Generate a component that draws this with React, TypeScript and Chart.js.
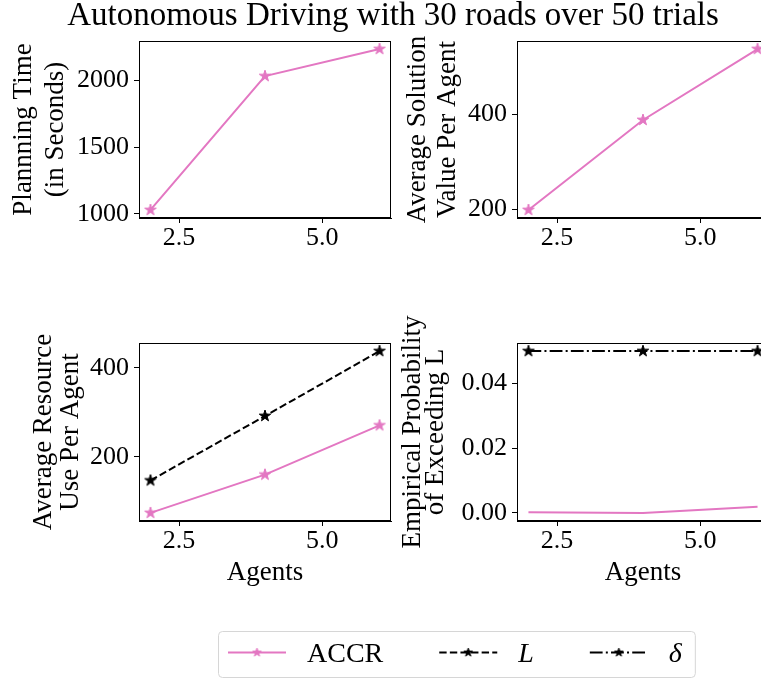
import React, { useEffect, useRef } from 'react';
import { Chart, registerables } from 'chart.js';

Chart.register(...registerables);

// ---- data ----
const AGENTS = [2, 4, 6];
const X_TICKS = [2.5, 5.0];

const PLAN_TIME_ACCR = [1030, 2030, 2232];
const SOLUTION_VALUE_ACCR = [199, 388, 537];
const RESOURCE_ACCR = [74, 160, 271];
const RESOURCE_L = [147, 292, 438];
const EXCEED_PROB_ACCR = [0.0002, 0.0, 0.0019];
const EXCEED_PROB_DELTA = [0.05, 0.05, 0.05];

const TICKS_TIME = [1000, 1500, 2000];
const TICKS_VALUE = [200, 400];
const TICKS_RESOURCE = [200, 400];
const TICKS_PROB = [0.0, 0.02, 0.04];

const SERIES_NAMES = ['ACCR', 'L', 'δ'];
const TITLE = 'Autonomous Driving with 30 roads over 50 trials';

// ---- style ----
const FONT = "'Liberation Serif', 'DejaVu Serif', serif";
const PINK = '#e377c2';
const BLACK = '#000000';
const DASHED = [7.4, 3.2];
const DASH_DOT = [12.8, 3.2, 2, 3.2];
const Y_AXIS_W = 140;
const PLOT_W = 252;
const TOP_PAD = 40;

function makeStar(color: string, radius: number): HTMLCanvasElement {
  const size = Math.ceil(radius * 2 + 2);
  const c = document.createElement('canvas');
  c.width = size;
  c.height = size;
  const g = c.getContext('2d')!;
  const cx = size / 2;
  const cy = size / 2;
  g.beginPath();
  for (let k = 0; k < 10; k++) {
    const r = k % 2 === 0 ? radius : radius * 0.382;
    const a = -Math.PI / 2 + (k * Math.PI) / 5;
    const px = cx + r * Math.cos(a);
    const py = cy + r * Math.sin(a);
    if (k === 0) g.moveTo(px, py);
    else g.lineTo(px, py);
  }
  g.closePath();
  g.fillStyle = color;
  g.fill();
  g.strokeStyle = color;
  g.lineWidth = 1;
  g.stroke();
  return c;
}

function padRange(values: number[]): [number, number] {
  const lo = Math.min(...values);
  const hi = Math.max(...values);
  const m = (hi - lo) * 0.05;
  return [lo - m, hi + m];
}

type Series = {
  label: string;
  values: number[];
  color: string;
  dash: number[];
  marker: boolean;
};

// full frame around the plotting area
const framePlugin = {
  id: 'frame',
  afterDraw(chart: any) {
    const { ctx, chartArea } = chart;
    ctx.save();
    ctx.strokeStyle = BLACK;
    ctx.lineWidth = 1;
    const l = Math.round(chartArea.left) + 0.5;
    const t = Math.round(chartArea.top) + 0.5;
    const r = Math.round(chartArea.right) - 0.5;
    const b = Math.round(chartArea.bottom) - 0.5;
    ctx.strokeRect(l, t, r - l, b - t);
    ctx.restore();
  },
};

type PanelProps = {
  plotLeft: number;
  plotTop: number;
  plotHeight: number;
  axisBelow: number;
  yTitle: string[];
  yTitleLine: number;
  yTitlePad: number;
  xTitle?: string;
  yTicks: number[];
  yDecimals: number;
  series: Series[];
};

function Panel(p: PanelProps) {
  const ref = useRef<HTMLCanvasElement | null>(null);
  const width = Y_AXIS_W + PLOT_W + 1;
  const height = TOP_PAD + p.plotHeight + p.axisBelow;

  useEffect(() => {
    const allY = p.series.flatMap((s) => s.values);
    const [yMin, yMax] = padRange(allY);
    const [xMin, xMax] = padRange(AGENTS);

    const datasets = p.series.map((s) => ({
      label: s.label,
      data: AGENTS.map((x, i) => ({ x, y: s.values[i] })),
      borderColor: s.color,
      backgroundColor: s.color,
      borderWidth: 2,
      borderDash: s.dash,
      pointStyle: s.marker ? makeStar(s.color, 6) : 'circle',
      pointRadius: s.marker ? 6 : 0,
      tension: 0,
      clip: false as any,
    }));

    const tickFont = { family: FONT, size: 26 };
    const gridStyle = {
      display: true,
      drawOnChartArea: false,
      drawTicks: true,
      tickLength: 5,
      color: BLACK,
      lineWidth: 1,
    };

    const chart = new Chart(ref.current!, {
      type: 'line',
      data: { datasets },
      options: {
        animation: false,
        responsive: false,
        events: [],
        layout: { autoPadding: false, padding: { top: TOP_PAD, left: 0, right: 1, bottom: 0 } },
        plugins: { legend: { display: false }, tooltip: { enabled: false } },
        scales: {
          x: {
            type: 'linear',
            min: xMin,
            max: xMax,
            afterBuildTicks: (s: any) => {
              s.ticks = X_TICKS.map((v) => ({ value: v }));
            },
            afterFit: (s: any) => {
              s.height = p.axisBelow;
            },
            ticks: {
              font: tickFont,
              color: BLACK,
              padding: 0,
              maxRotation: 0,
              autoSkip: false,
              callback: (v: any) => Number(v).toFixed(1),
            },
            grid: gridStyle,
            border: { display: true, color: BLACK, width: 1 },
            title: {
              display: !!p.xTitle,
              text: p.xTitle || '',
              color: BLACK,
              font: { family: FONT, size: 27, lineHeight: 1.2 },
              padding: { top: 0, bottom: 12 },
            },
          },
          y: {
            type: 'linear',
            min: yMin,
            max: yMax,
            afterBuildTicks: (s: any) => {
              s.ticks = p.yTicks.map((v) => ({ value: v }));
            },
            afterFit: (s: any) => {
              s.width = Y_AXIS_W;
            },
            ticks: {
              font: tickFont,
              color: BLACK,
              padding: 5,
              autoSkip: false,
              callback: (v: any) => Number(v).toFixed(p.yDecimals),
            },
            grid: gridStyle,
            border: { display: true, color: BLACK, width: 1 },
            title: {
              display: true,
              text: p.yTitle,
              color: BLACK,
              font: { family: FONT, size: 27, lineHeight: `${p.yTitleLine}px` },
              padding: { top: p.yTitlePad, bottom: 0 },
            },
          },
        },
      },
      plugins: [framePlugin],
    } as any);
    return () => chart.destroy();
  }, []);

  return (
    <canvas
      ref={ref}
      width={width}
      height={height}
      style={{
        position: 'absolute',
        left: p.plotLeft - Y_AXIS_W,
        top: p.plotTop - TOP_PAD,
        width,
        height,
      }}
    />
  );
}

// legend drawn in the figure-level chart from its datasets
const figureLegendPlugin = {
  id: 'figureLegend',
  afterDraw(chart: any) {
    const ctx: CanvasRenderingContext2D = chart.ctx;
    const items = chart.data.datasets;
    const size = 28;
    const boxL = 218;
    const boxT = 631;
    const boxH = 46;
    const lineY = 652.5;
    const textY = 662;
    ctx.save();
    let x = boxL + 10;
    const entries = items.map((ds: any) => {
      ctx.font = `${ds.italicLabel ? 'italic ' : ''}${size}px ${FONT}`;
      const w = ctx.measureText(ds.label).width;
      const e = { ds, hx: x, tx: x + 79, w };
      x = x + 79 + w + 56;
      return e;
    });
    const last = entries[entries.length - 1];
    const boxR = last.tx + last.w + 13;

    ctx.beginPath();
    (ctx as any).roundRect(boxL + 0.5, boxT + 0.5, boxR - boxL, boxH, 4);
    ctx.fillStyle = 'rgba(255,255,255,0.8)';
    ctx.fill();
    ctx.strokeStyle = '#d6d6d6';
    ctx.lineWidth = 1;
    ctx.stroke();

    for (const e of entries) {
      const ds = e.ds;
      ctx.setLineDash(ds.borderDash || []);
      ctx.strokeStyle = ds.borderColor;
      ctx.lineWidth = 2;
      ctx.beginPath();
      ctx.moveTo(e.hx, lineY);
      ctx.lineTo(e.hx + 58, lineY);
      ctx.stroke();
      ctx.setLineDash([]);
      const img = ds.pointStyle as HTMLCanvasElement;
      ctx.drawImage(img, e.hx + 29 - img.width / 2, lineY - img.height / 2);
      ctx.font = `${ds.italicLabel ? 'italic ' : ''}${size}px ${FONT}`;
      ctx.fillStyle = BLACK;
      ctx.textBaseline = 'alphabetic';
      ctx.textAlign = 'left';
      ctx.fillText(ds.label, e.tx, textY);
    }
    ctx.restore();
  },
};

function Figure() {
  const ref = useRef<HTMLCanvasElement | null>(null);
  useEffect(() => {
    const legendSeries = [
      { label: SERIES_NAMES[0], color: PINK, dash: [] as number[], italic: false },
      { label: SERIES_NAMES[1], color: BLACK, dash: DASHED, italic: true },
      { label: SERIES_NAMES[2], color: BLACK, dash: DASH_DOT, italic: true },
    ];
    const chart = new Chart(ref.current!, {
      type: 'line',
      data: {
        datasets: legendSeries.map((s) => ({
          label: s.label,
          data: [],
          borderColor: s.color,
          backgroundColor: s.color,
          borderDash: s.dash,
          pointStyle: makeStar(s.color, 4.5),
          italicLabel: s.italic,
        })),
      },
      options: {
        animation: false,
        responsive: false,
        events: [],
        layout: { padding: { left: 25, top: 0, right: 0, bottom: 0 } },
        scales: { x: { display: false }, y: { display: false } },
        plugins: {
          legend: { display: false },
          tooltip: { enabled: false },
          title: {
            display: true,
            text: TITLE,
            color: BLACK,
            font: { family: FONT, size: 33, weight: 'normal', lineHeight: 1 },
            padding: { top: 0, bottom: 0 },
          },
        },
      },
      plugins: [figureLegendPlugin],
    } as any);
    return () => chart.destroy();
  }, []);
  return (
    <canvas
      ref={ref}
      width={761}
      height={678}
      style={{ position: 'absolute', left: 0, top: 0, width: 761, height: 678 }}
    />
  );
}

export default function App() {
  const accr = (values: number[], marker = true): Series => ({
    label: SERIES_NAMES[0],
    values,
    color: PINK,
    dash: [],
    marker,
  });
  return (
    <div
      style={{
        position: 'absolute',
        left: 0,
        top: 0,
        width: 761,
        height: 678,
        overflow: 'hidden',
        background: '#ffffff',
      }}
    >
      <Figure />
      <Panel
        plotLeft={139}
        plotTop={41}
        plotHeight={177}
        axisBelow={50}
        yTitle={['Plannning Time', '(in Seconds)']}
        yTitleLine={32}
        yTitlePad={9}
        yTicks={TICKS_TIME}
        yDecimals={0}
        series={[accr(PLAN_TIME_ACCR)]}
      />
      <Panel
        plotLeft={517}
        plotTop={41}
        plotHeight={177}
        axisBelow={50}
        yTitle={['Average Solution', 'Value Per Agent']}
        yTitleLine={30}
        yTitlePad={26}
        yTicks={TICKS_VALUE}
        yDecimals={0}
        series={[accr(SOLUTION_VALUE_ACCR)]}
      />
      <Panel
        plotLeft={139}
        plotTop={343}
        plotHeight={178}
        axisBelow={80}
        yTitle={['Average Resource', 'Use Per Agent']}
        yTitleLine={27}
        yTitlePad={31}
        xTitle="Agents"
        yTicks={TICKS_RESOURCE}
        yDecimals={0}
        series={[
          accr(RESOURCE_ACCR),
          { label: SERIES_NAMES[1], values: RESOURCE_L, color: BLACK, dash: DASHED, marker: true },
        ]}
      />
      <Panel
        plotLeft={517}
        plotTop={343}
        plotHeight={178}
        axisBelow={80}
        yTitle={['Empirical Probability', 'of Exceeding L']}
        yTitleLine={23}
        yTitlePad={24}
        xTitle="Agents"
        yTicks={TICKS_PROB}
        yDecimals={2}
        series={[
          accr(EXCEED_PROB_ACCR, false),
          { label: SERIES_NAMES[2], values: EXCEED_PROB_DELTA, color: BLACK, dash: DASH_DOT, marker: true },
        ]}
      />
    </div>
  );
}
